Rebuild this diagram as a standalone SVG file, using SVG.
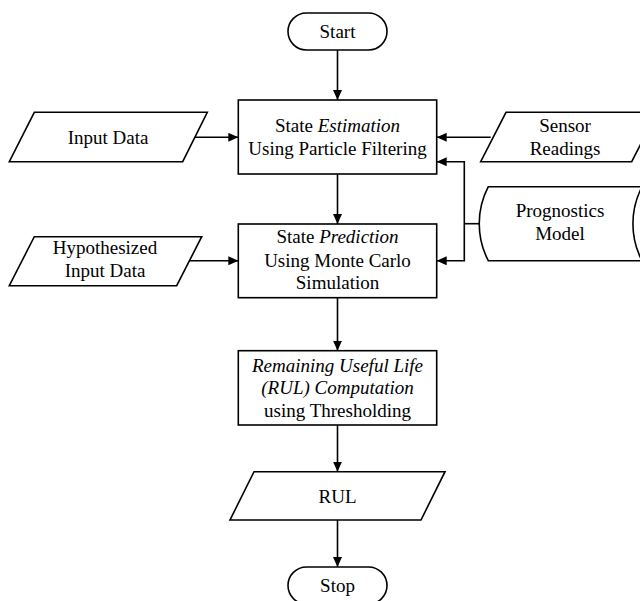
<svg xmlns="http://www.w3.org/2000/svg" width="640" height="601" viewBox="0 0 640 601">
  <style>
    .shape { fill: #ffffff; stroke: #000000; stroke-width: 1.6; }
    .link { fill: none; stroke: #000000; stroke-width: 1.6; }
    text { font-family: "Liberation Serif", "Times New Roman", serif; font-size: 19px; fill: #000000; text-anchor: middle; }
    .it { font-style: italic; }
  </style>
  <defs>
    <marker id="arrow" markerUnits="userSpaceOnUse" markerWidth="11" markerHeight="9" refX="10" refY="4.5" orient="auto">
      <path d="M0,0 L10,4.5 L0,9 Z" fill="#000000"/>
    </marker>
  </defs>
  <rect width="640" height="601" fill="#ffffff"/>

  <g id="connectors">
    <line class="link" x1="337.5" y1="50" x2="337.5" y2="100" marker-end="url(#arrow)"/>
    <line class="link" x1="194.7" y1="137.3" x2="238.3" y2="137.3" marker-end="url(#arrow)"/>
    <line class="link" x1="490.7" y1="137.3" x2="436.7" y2="137.3" marker-end="url(#arrow)"/>
    <line class="link" x1="337.5" y1="174" x2="337.5" y2="224" marker-end="url(#arrow)"/>
    <line class="link" x1="189" y1="260.8" x2="238.3" y2="260.8" marker-end="url(#arrow)"/>
    <line class="link" x1="479.3" y1="223.7" x2="464.3" y2="223.7"/>
    <polyline class="link" points="464.3,223.7 464.3,161.7 436.7,161.7" marker-end="url(#arrow)"/>
    <polyline class="link" points="464.3,223.7 464.3,260.8 436.7,260.8" marker-end="url(#arrow)"/>
    <line class="link" x1="337.5" y1="297.7" x2="337.5" y2="350.7" marker-end="url(#arrow)"/>
    <line class="link" x1="337.5" y1="425" x2="337.5" y2="471.7" marker-end="url(#arrow)"/>
    <line class="link" x1="337.5" y1="520" x2="337.5" y2="567" marker-end="url(#arrow)"/>
  </g>

  <g id="start">
    <rect class="shape" x="288" y="13" width="99" height="37" rx="18.5" ry="18.5"/>
    <text x="337.5" y="37.5">Start</text>
  </g>

  <g id="input-data">
    <polygon class="shape" points="34.3,112.3 207.3,112.3 182.7,161.7 9.3,161.7"/>
    <text x="108" y="143.5">Input Data</text>
  </g>

  <g id="state-estimation">
    <rect class="shape" x="238.3" y="100" width="198.4" height="74"/>
    <text x="337.5" y="131.7">State <tspan class="it">Estimation</tspan></text>
    <text x="337.5" y="155">Using Particle Filtering</text>
  </g>

  <g id="sensor-readings">
    <polygon class="shape" points="506,112.3 657,112.3 631.7,161.7 480.7,161.7"/>
    <text x="565" y="132.3">Sensor</text>
    <text x="565" y="155">Readings</text>
  </g>

  <g id="prognostics-model">
    <path class="shape" d="M488.3,186.7 L642,186.7 A80 80 0 0 0 642,260.7 L488.3,260.7 A80 80 0 0 1 488.3,186.7 Z"/>
    <text x="560" y="216.7">Prognostics</text>
    <text x="560" y="240">Model</text>
  </g>

  <g id="hypothesized-input">
    <polygon class="shape" points="34.3,236.7 201.7,236.7 176.7,285.7 9.3,285.7"/>
    <text x="105" y="254.3">Hypothesized</text>
    <text x="105" y="276.7">Input Data</text>
  </g>

  <g id="state-prediction">
    <rect class="shape" x="238.3" y="224" width="198.4" height="73.7"/>
    <text x="337.5" y="243">State <tspan class="it">Prediction</tspan></text>
    <text x="337.5" y="266.7">Using Monte Carlo</text>
    <text x="337.5" y="289.3">Simulation</text>
  </g>

  <g id="rul-computation">
    <rect class="shape" x="238.3" y="350.7" width="198.4" height="74.3"/>
    <text class="it" x="337.5" y="371.7">Remaining Useful Life</text>
    <text x="337.5" y="393.7"><tspan class="it">(RUL) Computation</tspan></text>
    <text x="337.5" y="416.7">using Thresholding</text>
  </g>

  <g id="rul">
    <polygon class="shape" points="254,471.7 445,471.7 421,520 230,520"/>
    <text x="337.5" y="502.5">RUL</text>
  </g>

  <g id="stop">
    <rect class="shape" x="288" y="567" width="99" height="37" rx="18.5" ry="18.5"/>
    <text x="337.5" y="591.5">Stop</text>
  </g>
</svg>
